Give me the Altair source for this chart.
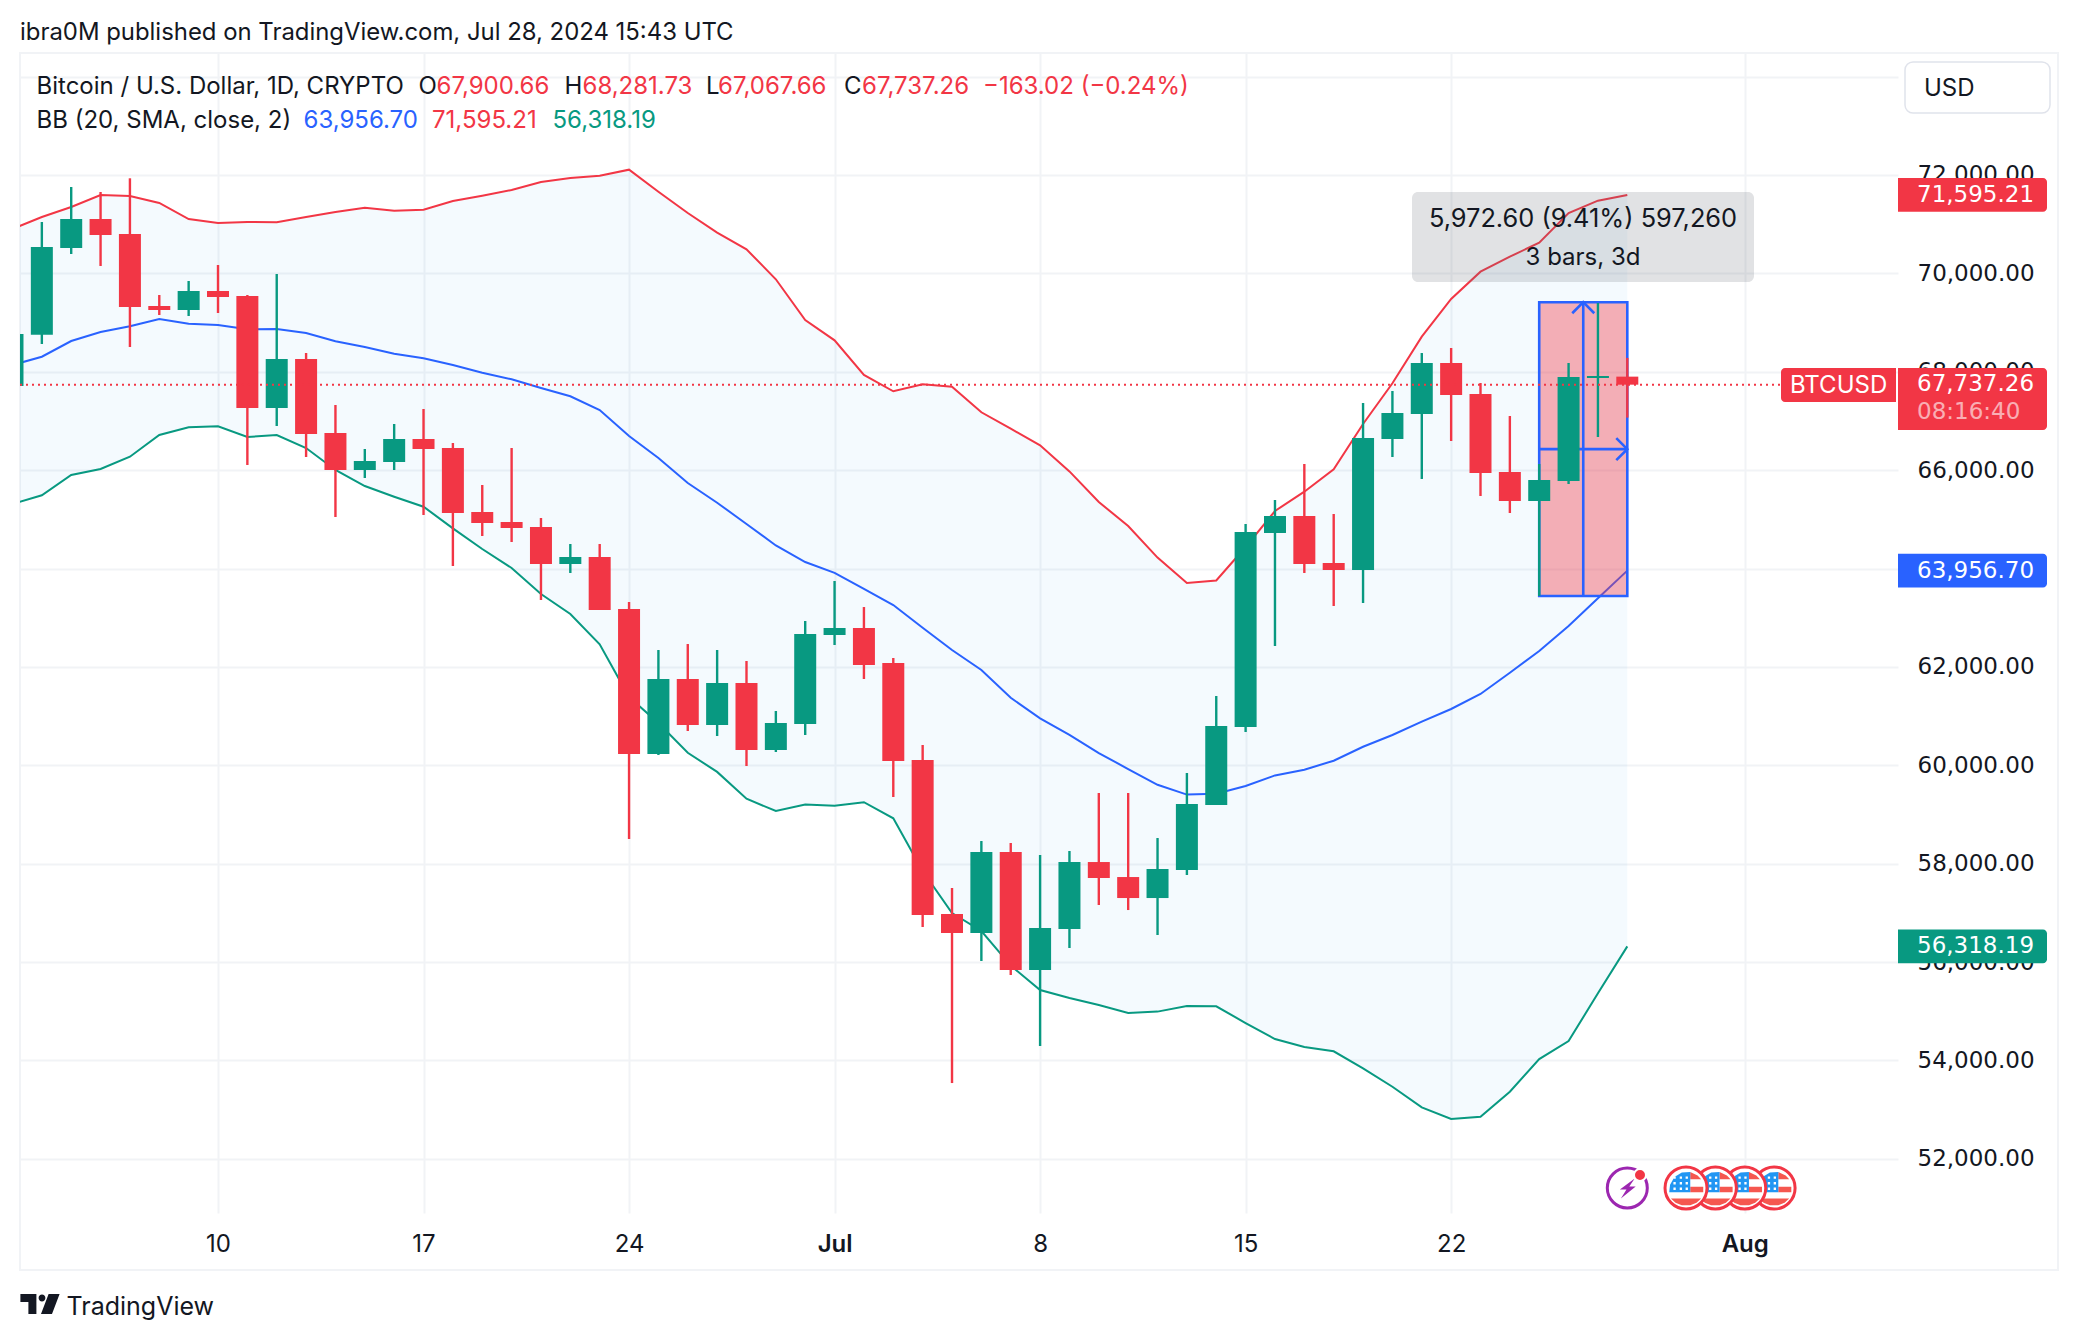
import altair as alt
import pandas as pd

FONT = "Inter"
SCALE_FONT = "DejaVu Sans"
INK = "#131722"
RED = "#f23645"
GREEN = "#089981"
BLUE = "#2962ff"
GRID = "#f1f3f6"

# ---------------------------------------------------------------- data
first_day = "2024-06-03"
opens = [67710, 68753, 70516, 71105, 70801, 69337, 69255, 69642, 69540, 67263, 68259, 66755, 66003, 66165,
         66633, 66450, 65149, 64945, 64844, 64092, 64234, 63177, 60229, 61754, 60818, 61672, 60310, 60839,
         62648, 62791, 62079, 60107, 56976, 56590, 58237, 55838, 56671, 58033, 57728, 57301, 57871, 59192,
         60778, 64722, 65067, 64112, 63970, 66633, 67141, 68178, 67548, 65962, 65372, 65779, 67873, 67900.66]
highs = [68768, 71044, 71756, 71654, 71933, 69560, 69845, 70170, 69560, 69987, 68381, 67324, 66430, 66938,
         67243, 66552, 65698, 66450, 65027, 64498, 64498, 63319, 62343, 62465, 62343, 62120, 61103, 62933,
         63746, 63217, 62181, 60412, 57505, 58460, 58420, 58176, 58257, 59436, 59436, 58521, 59843, 61408,
         64905, 65393, 66125, 65108, 67365, 67609, 68381, 68483, 67771, 67100, 66125, 68178, 69398, 68281.73]
lows = [67710, 68564, 70394, 70150, 68503, 69154, 69133, 69194, 66104, 66897, 66267, 65047, 65840, 66003,
        65088, 64051, 64661, 64539, 63360, 63909, 63156, 58501, 60209, 60697, 60595, 59985, 60270, 60615,
        62445, 61754, 59355, 56712, 53540, 56021, 55736, 54293, 56285, 57159, 57057, 56549, 57769, 59192,
        60676, 62425, 63909, 63238, 63299, 66267, 65820, 66592, 65474, 65128, 63441, 65718, 66674, 67067.66]
closes = [68768, 70536, 71105, 70780, 69316, 69255, 69642, 69520, 67263, 68259, 66735, 66003, 66186, 66633,
          66430, 65128, 64925, 64824, 64092, 64234, 63156, 60229, 61754, 60818, 61672, 60310, 60859, 62669,
          62791, 62038, 60087, 56956, 56590, 58237, 55838, 56692, 58033, 57708, 57301, 57891, 59212, 60798,
          64742, 65067, 64092, 63970, 66653, 67161, 68178, 67527, 65942, 65372, 65799, 67893, 67914, 67737.26]
bb_upper = [70902, 71146, 71349, 71593, 71573, 71431, 71105, 71024, 71044, 71038, 71146, 71248, 71335, 71274,
            71295, 71471, 71579, 71695, 71858, 71939, 71986, 72108, 71660, 71227, 70827, 70489, 69880, 69052,
            68639, 67934, 67603, 67745, 67696, 67176, 66842, 66505, 65974, 65352, 64864, 64222, 63705, 63758,
            64437, 65169, 65562, 66017, 66938, 67765, 68713, 69479, 70034, 70339, 70624, 71227, 71478, 71595.21]
bb_basis = [68137, 68306, 68625, 68808, 68924, 69072, 68977, 68950, 68863, 68869, 68788, 68619, 68503, 68367,
            68274, 68137, 67981, 67847, 67670, 67501, 67222, 66694, 66247, 65738, 65338, 64905, 64468, 64132,
            63913, 63587, 63258, 62797, 62343, 61937, 61371, 60955, 60619, 60249, 59924, 59603, 59404, 59420,
            59578, 59794, 59910, 60093, 60377, 60615, 60886, 61144, 61449, 61882, 62323, 62831, 63394, 63956.70]
bb_lower = [65311, 65488, 65901, 66023, 66273, 66714, 66871, 66891, 66674, 66714, 66450, 66003, 65677, 65460,
            65257, 64817, 64397, 64010, 63482, 63075, 62459, 61388, 60859, 60255, 59865, 59320, 59070, 59202,
            59176, 59249, 58922, 57850, 56996, 56631, 55927, 55431, 55268, 55126, 54963, 54992, 55106, 55100,
            54760, 54435, 54272, 54185, 53839, 53465, 53046, 52808, 52855, 53363, 54028, 54394, 55364, 56318.19]

price_ticks = [52000, 54000, 56000, 58000, 60000, 62000, 64000, 66000, 68000, 70000, 72000, 74000]
date_ticks = ["2024-06-10", "2024-06-17", "2024-06-24", "2024-07-01", "2024-07-08", "2024-07-15", "2024-07-22",
              "2024-08-01"]

last_price = 67737.26
measure_low = 63441
measure_high = 69414
measure_mid = 66427
measure_from = "2024-07-25"
measure_to = "2024-07-28"
measure_stem = "2024-07-26T12:00"

# ---------------------------------------------------------------- helpers


def ms(stamp):
    return int(pd.Timestamp(stamp, tz="UTC").value // 1_000_000)


W, H = 1878, 1160
ORIGIN_X, ORIGIN_Y = 20, 53

day_ms = 86_400_000
x_domain = [ms("2024-06-10") - int(6.744 * day_ms), ms("2024-06-10") + int(57.22 * day_ms)]
y_domain = [50898, 74480]

days = [ms(first_day) + i * day_ms for i in range(len(closes))]

x_scale = alt.Scale(type="utc", domain=x_domain, padding=0)
y_scale = alt.Scale(domain=y_domain, nice=False, zero=False, padding=0)

x_axis = alt.Axis(
    values=[ms(d) for d in date_ticks],
    title=None, domain=False, ticks=False, grid=True, gridColor=GRID, gridWidth=2,
    labelExpr="utcdate(datum.value) == 1 ? utcFormat(datum.value, '%b') : utcFormat(datum.value, '%-d')",
    labelFontWeight={"condition": {"test": "utcdate(datum.value) == 1", "value": 600}, "value": 400},
    labelFont=FONT, labelFontSize=24, labelColor=INK, labelPadding=19, labelOverlap=False, labelFlush=False,
    labelBound=False,
)
y_axis = alt.Axis(
    values=price_ticks, orient="right", format=",.2f",
    title=None, domain=False, ticks=False, grid=True, gridColor=GRID, gridWidth=2,
    labelFont=SCALE_FONT, labelFontSize=23, labelColor=INK, labelPadding=19, labelAlign="left", labelOverlap=False,
    labelFlush=False, labelBound=False,
)


def X(field="date"):
    return alt.X(f"{field}:T", scale=x_scale, axis=x_axis, title=None)


def Y(field="price"):
    return alt.Y(f"{field}:Q", scale=y_scale, axis=y_axis, title=None)


def text(content, x, y, color=INK, size=24, align="left", weight=400, opacity=1.0, font=FONT):
    return alt.Chart(pd.DataFrame({"t": [content]})).mark_text(
        font=font, fontSize=size, color=color, align=align, baseline="middle", fontWeight=weight, opacity=opacity
    ).encode(x=alt.value(x - ORIGIN_X), y=alt.value(y - ORIGIN_Y), text="t:N")


def box(x0, x1, y0, y1, **kw):
    return alt.Chart(pd.DataFrame({"a": [0]})).mark_rect(**kw).encode(
        x=alt.value(x0 - ORIGIN_X), x2=alt.value(x1 - ORIGIN_X),
        y=alt.value(y0 - ORIGIN_Y), y2=alt.value(y1 - ORIGIN_Y),
    )


# ---------------------------------------------------------------- tables
candles = pd.DataFrame({"date": days, "open": opens, "high": highs, "low": lows, "close": closes})
candles["dir"] = ["up" if c >= o else "down" for o, c in zip(opens, closes)]
bands = pd.DataFrame({"date": days, "upper": bb_upper, "basis": bb_basis, "lower": bb_lower})

dir_color = alt.Color("dir:N", scale=alt.Scale(domain=["up", "down"], range=[GREEN, RED]), legend=None)

band = alt.Chart(bands).mark_area(color="#2196f3", opacity=0.05, clip=True).encode(
    x=X(), y=Y("upper"), y2="lower:Q"
)
upper_line = alt.Chart(bands).mark_line(color=RED, strokeWidth=2, clip=True).encode(x=X(), y=Y("upper"))
basis_line = alt.Chart(bands).mark_line(color=BLUE, strokeWidth=2, clip=True).encode(x=X(), y=Y("basis"))
lower_line = alt.Chart(bands).mark_line(color=GREEN, strokeWidth=2, clip=True).encode(x=X(), y=Y("lower"))

measure = pd.DataFrame({"date": [ms(measure_from)], "date2": [ms(measure_to)],
                        "lo": [measure_low], "hi": [measure_high]})
measure_rect = alt.Chart(measure).mark_rect(
    fill=RED, fillOpacity=0.39, stroke=BLUE, strokeWidth=2.6
).encode(x=X(), x2="date2:T", y=Y("lo"), y2="hi:Q")

arrows = pd.DataFrame([
    ("v", ms(measure_stem), measure_low, 0),
    ("v", ms(measure_stem), measure_high, 1),
    ("vh", ms("2024-07-26T03:00"), measure_high - 224, 0),
    ("vh", ms(measure_stem), measure_high, 1),
    ("vh", ms("2024-07-26T21:00"), measure_high - 224, 2),
    ("h", ms(measure_from), measure_mid, 0),
    ("h", ms(measure_to), measure_mid, 1),
    ("hh", ms("2024-07-27T15:00"), measure_mid + 224, 0),
    ("hh", ms(measure_to), measure_mid, 1),
    ("hh", ms("2024-07-27T15:00"), measure_mid - 224, 2),
], columns=["seg", "date", "price", "ord"])
arrow_lines = alt.Chart(arrows).mark_line(color=BLUE, strokeWidth=2.6).encode(
    x=X(), y=Y(), detail="seg:N", order="ord:Q"
)

wicks = alt.Chart(candles).mark_rule(strokeWidth=2.4, clip=True).encode(
    x=X(), y=Y("low"), y2="high:Q", color=dir_color
)
bodies = alt.Chart(candles).mark_bar(size=22, clip=True).encode(
    x=X(), y=Y("open"), y2="close:Q", color=dir_color
)

price_line = alt.Chart(pd.DataFrame({"price": [last_price]})).mark_rule(
    color=RED, strokeWidth=2, strokeDash=[2, 4]
).encode(x=alt.value(0), x2=alt.value(1760), y=Y())

# tooltip of the measure tool
tip = box(1412, 1754, 192, 282, fill="#6a6d78", fillOpacity=0.2, cornerRadius=6)
tip_1 = text("5,972.60 (9.41%) 597,260", 1583, 219, align="center", size=25.4)
tip_2 = text("3 bars, 3d", 1583, 258, align="center")

# frame
frame = box(20, 2058, 53, 1270, fillOpacity=0, fill="white", stroke=GRID, strokeWidth=2)

# currency button
usd_box = box(1905, 2050, 62, 113, fill="white", stroke="#e0e3eb", strokeWidth=1.5, cornerRadius=8)
usd_text = text("USD", 1924, 88.5)

# price tags
tag_half = 345
tags = pd.DataFrame({
    "price": [71595.21, 63956.70, 56318.19],
    "label": ["71,595.21", "63,956.70", "56,318.19"],
    "fill": [RED, BLUE, GREEN],
})
tags["hi"] = tags["price"] + tag_half
tags["lo"] = tags["price"] - tag_half
fill_scale = alt.Color("fill:N", scale=None)
tag_rect = alt.Chart(tags).mark_rect(cornerRadiusTopRight=4, cornerRadiusBottomRight=4).encode(
    x=alt.value(1898 - ORIGIN_X), x2=alt.value(2047 - ORIGIN_X), y=Y("hi"), y2="lo:Q", color=fill_scale
)
tag_text = alt.Chart(tags).mark_text(
    font=SCALE_FONT, fontSize=23, color="white", align="left", baseline="middle"
).encode(x=alt.value(1917 - ORIGIN_X), y=Y(), text="label:N")

last_box = box(1898, 2047, 368, 430, fill=RED, cornerRadiusTopRight=4, cornerRadiusBottomRight=4)
last_text = text("67,737.26", 1917, 384, color="white", size=23, font=SCALE_FONT)
count_text = text("08:16:40", 1917, 412, color="white", opacity=0.6, size=23, font=SCALE_FONT)
sym_box = box(1781, 1896, 368, 402, fill=RED, cornerRadiusTopLeft=4, cornerRadiusBottomLeft=4)
sym_text = text("BTCUSD", 1790, 386, color="white")

# event icons
ICON_Y = 1188 - ORIGIN_Y


def icon(date, shape, size, **kw):
    return alt.Chart(pd.DataFrame({"date": [ms(date)]})).mark_point(
        shape=shape, size=size, filled=True, opacity=1, **kw
    ).encode(x=X(), y=alt.value(ICON_Y))


FLAG_RED = "M0.2,-0.76 L0.55,-0.6 L0.72,-0.42 L0.2,-0.42 Z M0.2,-0.06 L0.82,-0.06 L0.82,0.2 L0.2,0.2 Z " \
           "M-0.72,0.5 L0.72,0.5 L0.5,0.7 L0.2,0.82 L-0.2,0.82 L-0.5,0.7 Z"
FLAG_BLUE = "M-0.8,0.2 L0.2,0.2 L0.2,-0.76 L-0.2,-0.74 L-0.55,-0.52 L-0.76,-0.15 Z"
FLAG_STARS = " ".join(
    f"M{x:.2f},{y:.2f} h0.11 v0.11 h-0.11 Z"
    for y in (-0.55, -0.28, -0.02) for x in (-0.6, -0.3, -0.02)
)

flags = []
for d in ["2024-08-02", "2024-08-01", "2024-07-31", "2024-07-30"]:
    flags += [
        icon(d, "circle", 1764, fill="white", stroke=RED, strokeWidth=3),
        icon(d, FLAG_RED, 1764, fill="#f5574f", strokeWidth=0),
        icon(d, FLAG_BLUE, 1764, fill="#2196f3", strokeWidth=0),
        icon(d, FLAG_STARS, 1764, fill="white", strokeWidth=0),
    ]

bolt_path = "M0.37,-0.47 L-0.37,0.07 L-0.04,0.07 L-0.32,0.53 L0.42,-0.07 L0.1,-0.07 Z"
ring = icon("2024-07-28", "circle", 1600, fill="white", stroke="#9c27b0", strokeWidth=3)
bolt = icon("2024-07-28", bolt_path, 1600, fill="#9c27b0", strokeWidth=0)
dot = alt.Chart(pd.DataFrame({"a": [0]})).mark_point(
    shape="circle", size=144, filled=True, opacity=1, fill=RED, stroke="white", strokeWidth=2
).encode(x=alt.value(1640 - ORIGIN_X), y=alt.value(1175 - ORIGIN_Y))

# brand
logo_path = ("M-0.98,-0.5 L-0.18,-0.5 L-0.18,0.5 L-0.58,0.5 L-0.58,-0.1 L-0.98,-0.1 Z "
             "M-0.07,-0.3 A0.17,0.17 0 1,0 0.27,-0.3 A0.17,0.17 0 1,0 -0.07,-0.3 Z "
             "M0.43,-0.5 L0.98,-0.5 L0.6,0.5 L0.05,0.5 Z")
logo = alt.Chart(pd.DataFrame({"a": [0]})).mark_point(
    shape=logo_path, size=1600, filled=True, opacity=1, fill=INK, strokeWidth=0
).encode(x=alt.value(40 - ORIGIN_X), y=alt.value(1304 - ORIGIN_Y))

texts = [
    text("ibra0M published on TradingView.com, Jul 28, 2024 15:43 UTC", 20, 33, size=23.9),
    text("Bitcoin / U.S. Dollar, 1D, CRYPTO", 36.5, 87),
    text("O", 418.5, 87),
    text("67,900.66", 436.5, 87, color=RED),
    text("H", 564.5, 87),
    text("68,281.73", 582.5, 87, color=RED),
    text("L", 706, 87),
    text("67,067.66", 718, 87, color=RED),
    text("C", 844, 87),
    text("67,737.26", 862, 87, color=RED),
    text("\u2212163.02 (\u22120.24%)", 983, 87, color=RED),
    text("BB (20, SMA, close, 2)", 36.5, 121),
    text("63,956.70", 303.5, 121, color=BLUE),
    text("71,595.21", 432, 121, color=RED),
    text("56,318.19", 552.5, 121, color=GREEN),
    text("TradingView", 66.5, 1307, size=25),
]

chart = alt.layer(
    frame, band, upper_line, basis_line, lower_line, measure_rect, arrow_lines, wicks, bodies,
    price_line, tip, tip_1, tip_2, usd_box, usd_text, tag_rect, tag_text, last_box, last_text, count_text,
    sym_box, sym_text, ring, bolt, dot, *flags, logo, *texts,
).properties(
    width=W, height=H,
    padding={"left": 12, "top": 45, "right": 172, "bottom": 119},
    autosize=alt.AutoSizeParams(type="none"),
    background="white",
).configure_view(strokeWidth=0)

chart.save("out.html", embed_options={"renderer": "svg", "actions": False})
